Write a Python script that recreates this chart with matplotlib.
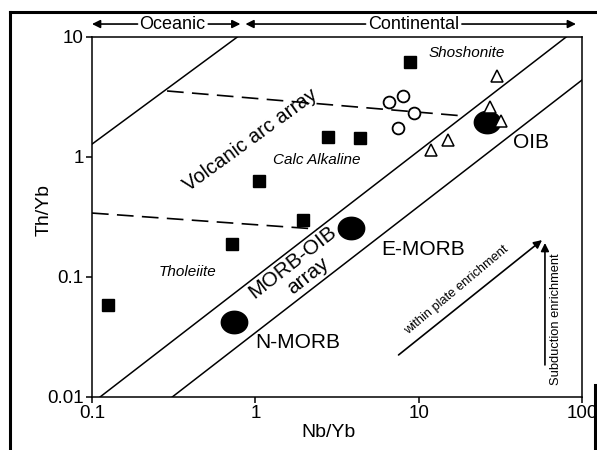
import numpy as np
import matplotlib.pyplot as plt
from matplotlib.path import Path
from matplotlib.lines import Line2D

plt.rcParams['font.family'] = ['Liberation Sans', 'DejaVu Sans']

# sample data (Nb/Yb, Th/Yb)
sq_nb = [0.125, 0.72, 1.97, 1.06, 2.77, 4.4, 8.8]
sq_th = [0.058, 0.19, 0.30, 0.63, 1.47, 1.44, 6.2]
circ_nb = [6.55, 7.98, 9.3, 7.43]
circ_th = [2.87, 3.22, 2.33, 1.75]
tri_nb = [30.1, 27.3, 31.9, 15.1, 11.9]
tri_th = [4.73, 2.61, 2.0, 1.39, 1.14]

# reference compositions
ref_names = ['N-MORB', 'E-MORB', 'OIB']
ref_nb = [0.74, 3.83, 26.1]
ref_th = [0.042, 0.256, 1.96]

# boundary lines
arc_upper_nb = [0.1, 0.776]
arc_upper_th = [1.28, 10]
morb_upper_nb = [0.112, 80]
morb_upper_th = [0.01, 10]
morb_lower_nb = [0.31, 100]
morb_lower_th = [0.01, 4.38]
dash_upper_nb = [0.288, 18.6]
dash_upper_th = [3.55, 2.2]
dash_lower_nb = [0.1, 2.37]
dash_lower_th = [0.341, 0.251]

xticks = [0.1, 1, 10, 100]
xtick_labels = ['0.1', '1', '10', '100']
yticks = [0.01, 0.1, 1, 10]
ytick_labels = ['0.01', '0.1', '1', '10']

fig = plt.figure(figsize=(5.97, 4.5), dpi=100)
ax = fig.add_axes([0.1541, 0.1178, 0.8208, 0.80])

lw = 1.1
ax.plot(arc_upper_nb, arc_upper_th, color='black', lw=lw)
ax.plot(morb_upper_nb, morb_upper_th, color='black', lw=lw)
ax.plot(morb_lower_nb, morb_lower_th, color='black', lw=lw)
ax.plot(dash_upper_nb, dash_upper_th, color='black', lw=1.2, dashes=(10, 5))
ax.plot(dash_lower_nb, dash_lower_th, color='black', lw=1.2, dashes=(10, 5))

# ellipse marker for the reference points
t = np.linspace(0, 2 * np.pi, 60)
ell = Path(np.column_stack((np.cos(t), 0.85 * np.sin(t))))
ax.plot(ref_nb, ref_th, ls='none', marker=ell, ms=19, color='black')

ax.plot(sq_nb, sq_th, ls='none', marker='s', ms=8.5, color='black')
ax.plot(circ_nb, circ_th, ls='none', marker='o', ms=8.5, mfc='white', mec='black', mew=1.3)
ax.plot(tri_nb, tri_th, ls='none', marker='^', ms=8.5, mfc='white', mec='black', mew=1.1)

ax.set_xscale('log')
ax.set_yscale('log')
ax.set_xlim(0.1, 100)
ax.set_ylim(0.01, 10)
ax.set_xticks(xticks)
ax.set_xticklabels(xtick_labels)
ax.set_yticks(yticks)
ax.set_yticklabels(ytick_labels)
ax.minorticks_off()
ax.tick_params(direction='out', length=4, width=1.1, labelsize=13.5, pad=2)
for sp in ax.spines.values():
    sp.set_linewidth(1.1)

ax.set_xlabel('Nb/Yb', fontsize=14)
ax.xaxis.set_label_coords(0.482, -0.075)
ax.set_ylabel('Th/Yb', fontsize=14)
ax.yaxis.set_label_coords(-0.08, 0.52)

# field labels
ax.text(0.93, 1.39, 'Volcanic arc array', fontsize=14.5, rotation=36, ha='center', va='center')
ax.text(2.37, 0.94, 'Calc Alkaline', fontsize=11, style='italic', ha='center', va='center')
ax.text(19.7, 7.36, 'Shoshonite', fontsize=11, style='italic', ha='center', va='center')
ax.text(0.383, 0.110, 'Tholeiite', fontsize=11, style='italic', ha='center', va='center')
ax.text(1.69, 0.133, 'MORB-OIB', fontsize=15, rotation=38, ha='center', va='center')
ax.text(2.11, 0.102, 'array', fontsize=15, rotation=38, ha='center', va='center')
ax.text(48.6, 1.31, 'OIB', fontsize=15, ha='center', va='center')
ax.text(10.6, 0.168, 'E-MORB', fontsize=15, ha='center', va='center')
ax.text(1.81, 0.0282, 'N-MORB', fontsize=15, ha='center', va='center')
ax.text(17.1, 0.078, 'within plate enrichment', fontsize=9.3, rotation=40, ha='center', va='center')
ax.text(69.2, 0.0447, 'Subduction enrichment', fontsize=9.3, rotation=90, ha='center', va='center')

arrow = dict(arrowstyle='-|>', color='black', lw=1.2, mutation_scale=12, shrinkA=0, shrinkB=0)
ax.annotate('', xy=(56.9, 0.203), xytext=(7.53, 0.0224), arrowprops=arrow)
ax.annotate('', xy=(59.3, 0.192), xytext=(59.3, 0.0185), arrowprops=arrow)

# Oceanic / Continental header arrows
ytop = 1.036
hdr = ('data', 'axes fraction')
ax.annotate('', xy=(0.1, ytop), xytext=(0.19, ytop), xycoords=hdr, textcoords=hdr,
            arrowprops=arrow, annotation_clip=False)
ax.annotate('', xy=(0.81, ytop), xytext=(0.515, ytop), xycoords=hdr, textcoords=hdr,
            arrowprops=arrow, annotation_clip=False)
ax.annotate('', xy=(0.87, ytop), xytext=(4.73, ytop), xycoords=hdr, textcoords=hdr,
            arrowprops=arrow, annotation_clip=False)
ax.annotate('', xy=(91.8, ytop), xytext=(18.4, ytop), xycoords=hdr, textcoords=hdr,
            arrowprops=arrow, annotation_clip=False)
ax.annotate('Oceanic', xy=(0.31, ytop), xycoords=hdr, fontsize=13, ha='center', va='center',
            annotation_clip=False)
ax.annotate('Continental', xy=(9.3, ytop), xycoords=hdr, fontsize=13, ha='center', va='center',
            annotation_clip=False)

# outer picture frame
W, H = 597, 450
fig.add_artist(Line2D([10 / W, 10 / W], [0, 1 - 12 / H], color='black', lw=2.2))
fig.add_artist(Line2D([10 / W, 1], [1 - 12 / H, 1 - 12 / H], color='black', lw=2.2))
fig.add_artist(Line2D([595 / W, 595 / W], [0, 1 - 385 / H], color='black', lw=2.2))

fig.savefig('out.png', dpi=100)
